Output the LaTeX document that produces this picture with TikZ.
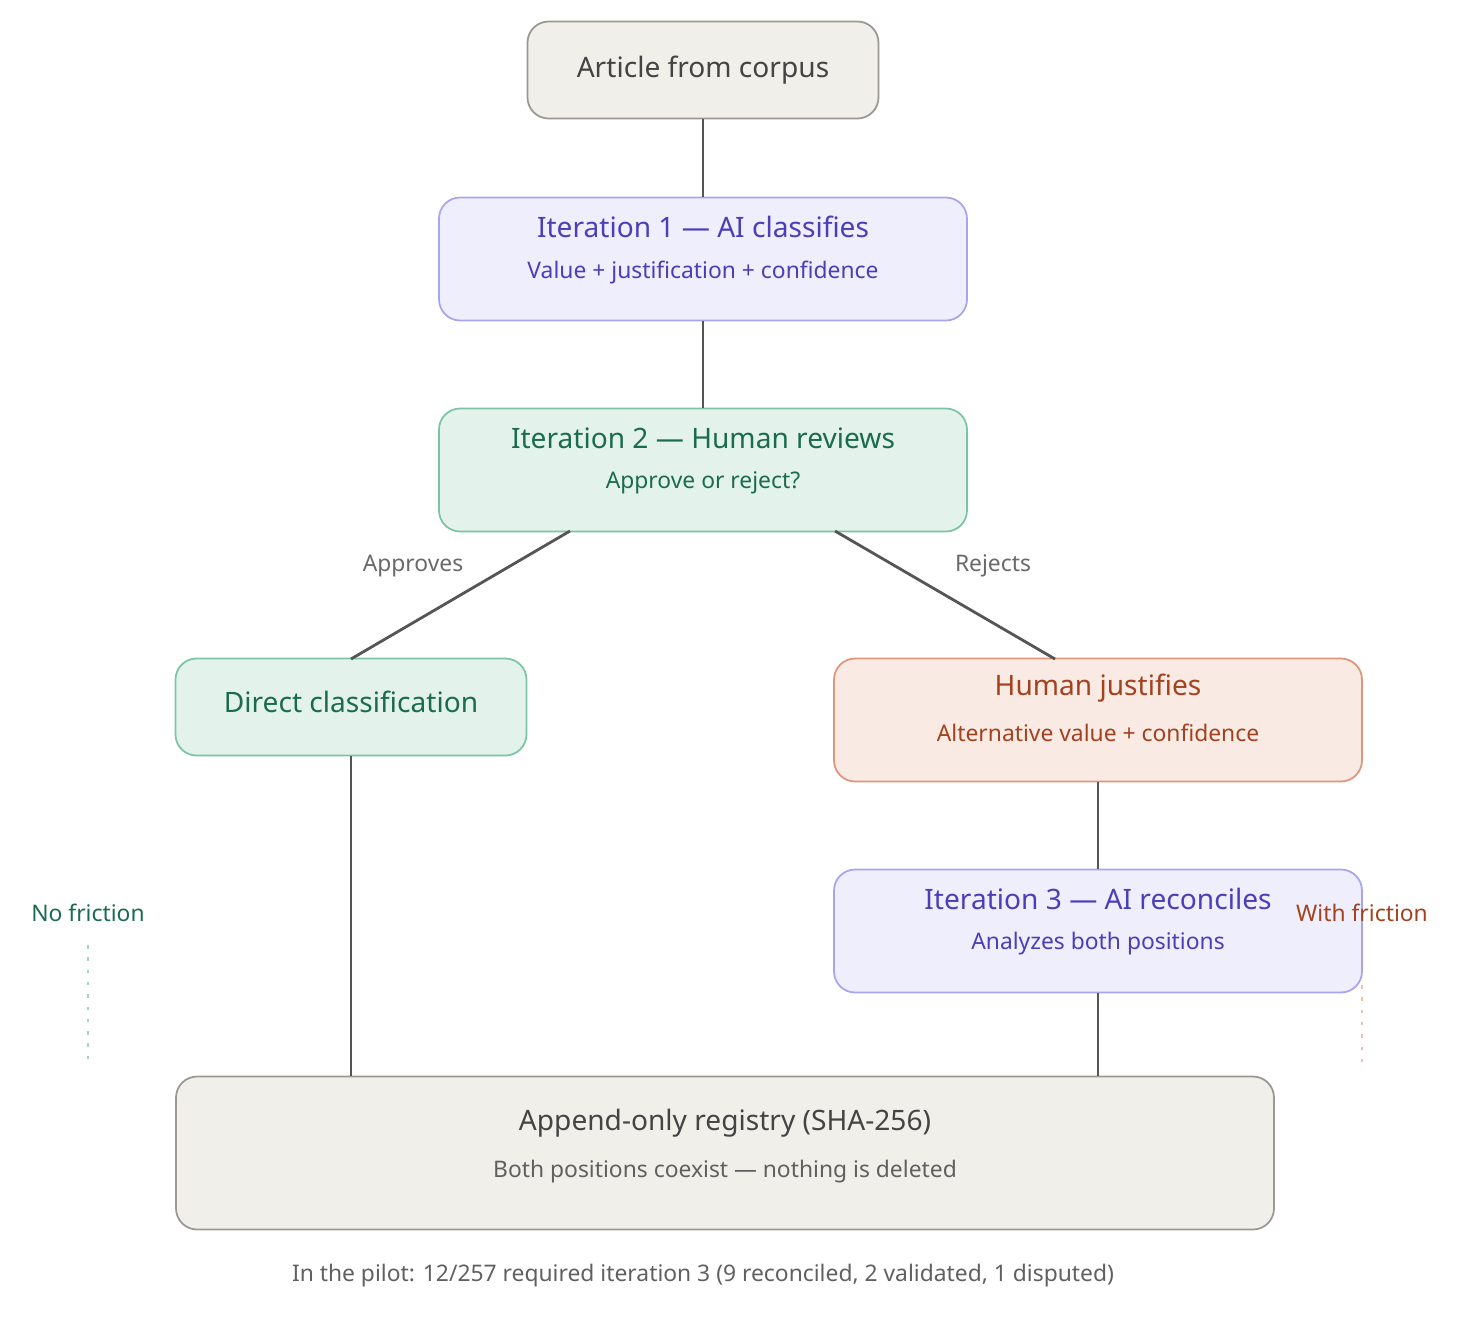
\documentclass[tikz,border=0pt]{standalone}
\usepackage{fontspec}
\setmainfont{Noto Sans}
\definecolor{bgB}{HTML}{F1EFEA}\definecolor{bdB}{HTML}{9A9890}\definecolor{txB}{HTML}{444444}
\definecolor{bgP}{HTML}{EEEEFC}\definecolor{bdP}{HTML}{A9A4F0}\definecolor{txP}{HTML}{4B3FB8}
\definecolor{bgG}{HTML}{E3F3EC}\definecolor{bdG}{HTML}{7CC4A5}\definecolor{txG}{HTML}{1B6B4F}
\definecolor{bgR}{HTML}{FAEAE4}\definecolor{bdR}{HTML}{E0957A}\definecolor{txR}{HTML}{A3421F}
\definecolor{ln}{HTML}{555555}
\tikzset{
 box/.style={draw=#1, rounded corners=12pt, line width=1pt, align=center, inner sep=0pt},
 T/.style={font=\fontsize{16}{18}\selectfont},
 S/.style={font=\fontsize{13}{15}\selectfont},
 conn/.style={draw=ln, line width=1.6pt},
 lab/.style={font=\fontsize{13}{15}\selectfont, text=txB!80},
}
\begin{document}
\begin{tikzpicture}[x=0.02cm,y=-0.02cm]
\useasboundingbox (0,0) rectangle (1478,1326);
\node[box=bdB, fill=bgB, minimum width=351*0.02cm, minimum height=97*0.02cm, T, text=txB] (art) at (703,70) {Article from corpus};
\node[box=bdP, fill=bgP, minimum width=528*0.02cm, minimum height=123*0.02cm] (it1) at (703,259) {};
\node[T,text=txP] at (703,227) {Iteration 1 — AI classifies};
\node[S,text=txP] at (703,272) {Value + justification + confidence};
\node[box=bdG, fill=bgG, minimum width=528*0.02cm, minimum height=123*0.02cm] (it2) at (703,470) {};
\node[T,text=txG] at (703,438) {Iteration 2 — Human reviews};
\node[S,text=txG] at (703,483) {Approve or reject?};
\node[box=bdG, fill=bgG, minimum width=351*0.02cm, minimum height=97*0.02cm, T, text=txG] (dir) at (351,707) {\raisebox{6pt}{Direct classification}};
\node[box=bdR, fill=bgR, minimum width=528*0.02cm, minimum height=123*0.02cm] (hj) at (1098,720) {};
\node[T,text=txR] at (1098,688) {Human justifies};
\node[S,text=txR] at (1098,733) {Alternative value + confidence};
\node[box=bdP, fill=bgP, minimum width=528*0.02cm, minimum height=123*0.02cm] (it3) at (1098,931) {};
\node[T,text=txP] at (1098,899) {Iteration 3 — AI reconciles};
\node[S,text=txP] at (1098,944) {Analyzes both positions};
\node[box=bdB, fill=bgB, minimum width=1098*0.02cm, minimum height=153*0.02cm] (reg) at (725,1153) {};
\node[T,text=txB] at (725,1123) {Append-only registry (SHA-256)};
\node[S,text=txB!85] at (725,1172) {Both positions coexist — nothing is deleted};
\node[S,text=txB!85] (foot) at (703,1276) {In the pilot: 12/257 required iteration 3 (9 reconciled, 2 validated, 1 disputed)};
\coordinate (a1) at (570,531); \coordinate (a2) at (351,659);
\coordinate (r1) at (835,531); \coordinate (r2) at (1055,659);
\draw[conn] (art) -- (it1);
\draw[conn] (it1) -- (it2);
\draw[conn] (a1) -- (a2);
\draw[conn] (r1) -- (r2);
\draw[conn] (dir.south) -- (dir.south |- reg.north);
\draw[conn] (hj) -- (it3);
\draw[conn] (it3.south) -- (it3.south |- reg.north);
\node[lab] (ap) at (413,566) {Approves};
\node[lab] (rj) at (993,566) {Rejects};
\node[S,text=txG] (nf) at (88,913) {No friction};
\node[S,text=txR] (wf) at (1362,913) {With friction};
\coordinate (nfe) at (88,1065); \coordinate (wfs) at (1362,985); \coordinate (wfe) at (1362,1065);
\draw[bdG!70, line width=1.2pt, dash pattern=on 2pt off 5pt] (88,945) -- (nfe);
\draw[bdR!60, line width=1.2pt, dash pattern=on 2pt off 5pt] (wfs) -- (wfe);
\end{tikzpicture}
\end{document}
